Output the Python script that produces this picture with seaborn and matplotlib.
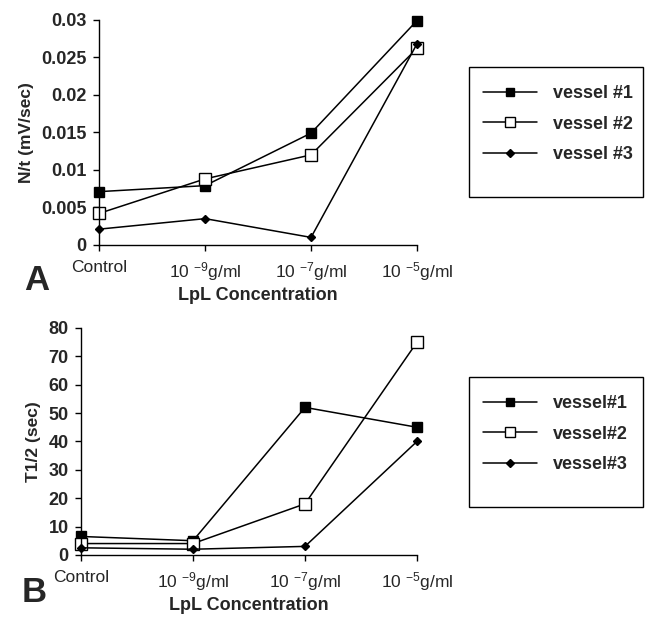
import seaborn as sns
from matplotlib import pyplot as plt
from matplotlib.patches import Rectangle
import pandas as pd
import numpy as np

# Data
concentrations = ['Control', '1e-9', '1e-7', '1e-5']
tick_labels = ['Control', '10 $^{-9}$g/ml', '10 $^{-7}$g/ml', '10 $^{-5}$g/ml']

# Panel A: N/t (mV/sec)
a_vessel1 = [0.0071, 0.0079, 0.0149, 0.0299]
a_vessel2 = [0.0042, 0.0088, 0.0120, 0.0262]
a_vessel3 = [0.0021, 0.0035, 0.0010, 0.0268]

# Panel B: T1/2 (sec)
b_vessel1 = [6.5, 5.0, 52.0, 45.0]
b_vessel2 = [4.0, 4.0, 18.0, 75.0]
b_vessel3 = [2.5, 2.0, 3.0, 40.0]

sns.set_style('ticks')
plt.rcParams['font.family'] = ['Liberation Sans', 'DejaVu Sans']
plt.rcParams['mathtext.default'] = 'regular'

W, H = 648, 620
fig = plt.figure(figsize=(6.48, 6.2), dpi=100)
axA = fig.add_axes([0.153, 0.605, 0.4905, 0.363])
axB = fig.add_axes([0.125, 0.105, 0.5185, 0.366])

x = np.arange(len(concentrations))

# marker styles for the three vessels
styles = [
    dict(marker='s', markersize=6.5, markerfacecolor='black', markeredgecolor='black'),
    dict(marker='s', markersize=8.5, markerfacecolor='white', markeredgecolor='black'),
    dict(marker='D', markersize=4.5, markerfacecolor='black', markeredgecolor='black'),
]


def draw_panel(ax, series, names, ymax, yticks, ylabel, box_top):
    for vals, name, st in zip(series, names, styles):
        df = pd.DataFrame({'x': x, 'y': vals})
        sns.lineplot(data=df, x='x', y='y', ax=ax, color='black', linewidth=1.1,
                     label=name, clip_on=False, markeredgewidth=1, **st)
    ax.set_xlim(0, 3)
    ax.set_ylim(0, ymax)
    ax.set_xticks(x)
    ax.set_xticklabels(tick_labels, fontsize=12.5)
    ax.set_yticks(yticks)
    ax.set_yticklabels([f'{t:g}' for t in yticks], fontsize=13, fontweight='bold')
    ax.tick_params(direction='out', length=4, width=1, color='black', pad=5)
    ax.tick_params(axis='x', pad=7)
    for s in ['top', 'right']:
        ax.spines[s].set_visible(False)
    for s in ['left', 'bottom']:
        ax.spines[s].set_color('black')
        ax.spines[s].set_linewidth(1)
    ax.set_ylabel(ylabel, fontsize=12.5, fontweight='bold', labelpad=5)
    ax.set_xlabel('LpL Concentration', fontsize=13, fontweight='bold', labelpad=3)
    # legend entries without frame, box drawn separately (Excel style padding)
    ax.legend(loc='upper left', bbox_to_anchor=(483 / W, 1 - (box_top + 18) / H),
              bbox_transform=fig.transFigure, borderaxespad=0, borderpad=0, frameon=False,
              handlelength=3.0, handletextpad=0.9, labelspacing=0.75, markerscale=0.8,
              numpoints=1, prop={'size': 13, 'weight': 'bold'})
    fig.patches.append(Rectangle((469 / W, 1 - (box_top + 130) / H), 174 / W, 130 / H,
                                 transform=fig.transFigure, fill=False,
                                 edgecolor='black', linewidth=1))


draw_panel(axA, [a_vessel1, a_vessel2, a_vessel3], ['vessel #1', 'vessel #2', 'vessel #3'],
           0.03, [0, 0.005, 0.01, 0.015, 0.02, 0.025, 0.03], 'N/t (mV/sec)', 67)
draw_panel(axB, [b_vessel1, b_vessel2, b_vessel3], ['vessel#1', 'vessel#2', 'vessel#3'],
           80, [0, 10, 20, 30, 40, 50, 60, 70, 80], 'T1/2 (sec)', 377)

fig.text(0.037, 1 - 281 / H, 'A', fontsize=25, fontweight='bold', va='center')
fig.text(0.033, 1 - 593 / H, 'B', fontsize=25, fontweight='bold', va='center')

fig.savefig('out.png', dpi=100, facecolor='white')
